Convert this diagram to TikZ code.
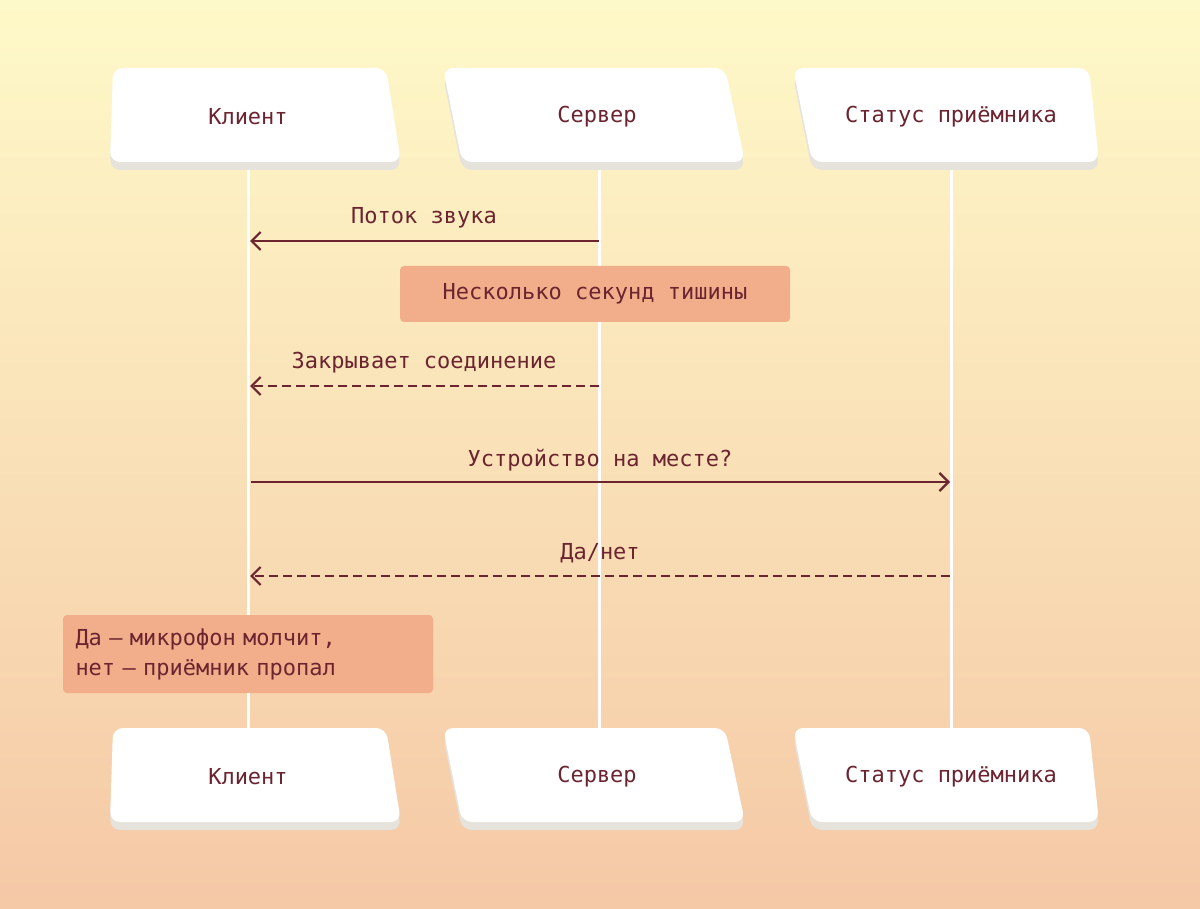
\documentclass[tikz,border=0pt]{standalone}
\usepackage{fontspec}
\setmainfont{DejaVu Sans Mono}
\usetikzlibrary{arrows.meta}
\definecolor{txt}{HTML}{6B2430}
\definecolor{bgtop}{HTML}{FEF9C8}
\definecolor{bgbot}{HTML}{F5C8A6}
\definecolor{note}{HTML}{F2AE8A}
\definecolor{shd}{HTML}{E6E2DC}
\begin{document}
\begin{tikzpicture}[x=1pt,y=-1pt,
  lbl/.style={text=txt,font=\fontsize{22}{27}\selectfont},
  life/.style={white,line width=3pt},
  msg/.style={txt,line width=2.2pt,-{Straight Barb[length=9pt,width=18pt]}},
  dmsg/.style={msg,dash pattern=on 9pt off 5pt},
  notebox/.style={fill=note,rounded corners=4pt,text=txt,font=\fontsize{22}{30}\selectfont,inner sep=0pt},
  part/.style={fill=white,rounded corners=10pt},
  shadow/.style={fill=shd,rounded corners=10pt}]
\shade[top color=bgtop,bottom color=bgbot] (0,0) rectangle (1200,909);
\useasboundingbox (0,0) rectangle (1200,909);
% lifelines
\foreach \n/\x in {c/248,s/599,r/951}{
  \coordinate (\n t) at (\x,165);
  \coordinate (\n b) at (\x,732);
  \draw[life] (\n t) -- (\n b);
}
% participant boxes
\foreach \dy/\tag in {0/t,660/b}{
\begin{scope}[yshift=-\dy pt]
\fill[shadow] (113,76)--(387,76)--(401,170)--(110,170)--cycle;
\fill[part] (113,68)--(386,68)--(401,162)--(110,162)--cycle;
\fill[shadow] (443,76)--(725,76)--(745,170)--(462,170)--cycle;
\fill[part] (443,68)--(725,68)--(745,162)--(462,162)--cycle;
\fill[shadow] (793,76)--(1089,76)--(1099,170)--(812,170)--cycle;
\fill[part] (793,68)--(1089,68)--(1099,162)--(812,162)--cycle;
\node[lbl] (pc\tag) at (248,117) {Клиент};
\node[lbl] (ps\tag) at (597,117) {Сервер};
\node[lbl] (pr\tag) at (951,117) {Статус приёмника};
\end{scope}}
% messages
\coordinate (m1s) at (599,241); \coordinate (m1e) at (250,241);
\draw[msg] (m1s) -- (m1e);
\node[lbl] (l1) at (424,218) {Поток звука};
\node[notebox,minimum width=390pt,minimum height=56pt] (n1) at (595,294) {Несколько секунд тишины};
\coordinate (m2s) at (599,386); \coordinate (m2e) at (250,386);
\draw[dmsg] (m2s) -- (m2e);
\node[lbl] (l2) at (424,363) {Закрывает соединение};
\coordinate (m3s) at (251,482); \coordinate (m3e) at (950,482);
\draw[msg] (m3s) -- (m3e);
\node[lbl] (l3) at (600,460) {Устройство на месте?};
\coordinate (m4s) at (950,576); \coordinate (m4e) at (250,576);
\draw[dmsg] (m4s) -- (m4e);
\node[lbl] (l4) at (600,553) {Да/нет};
\node[notebox,minimum width=370pt,minimum height=78pt,align=left,text width=345pt] (n2) at (248,654) {Да — микрофон молчит,\\нет — приёмник пропал};
\end{tikzpicture}
\end{document}
